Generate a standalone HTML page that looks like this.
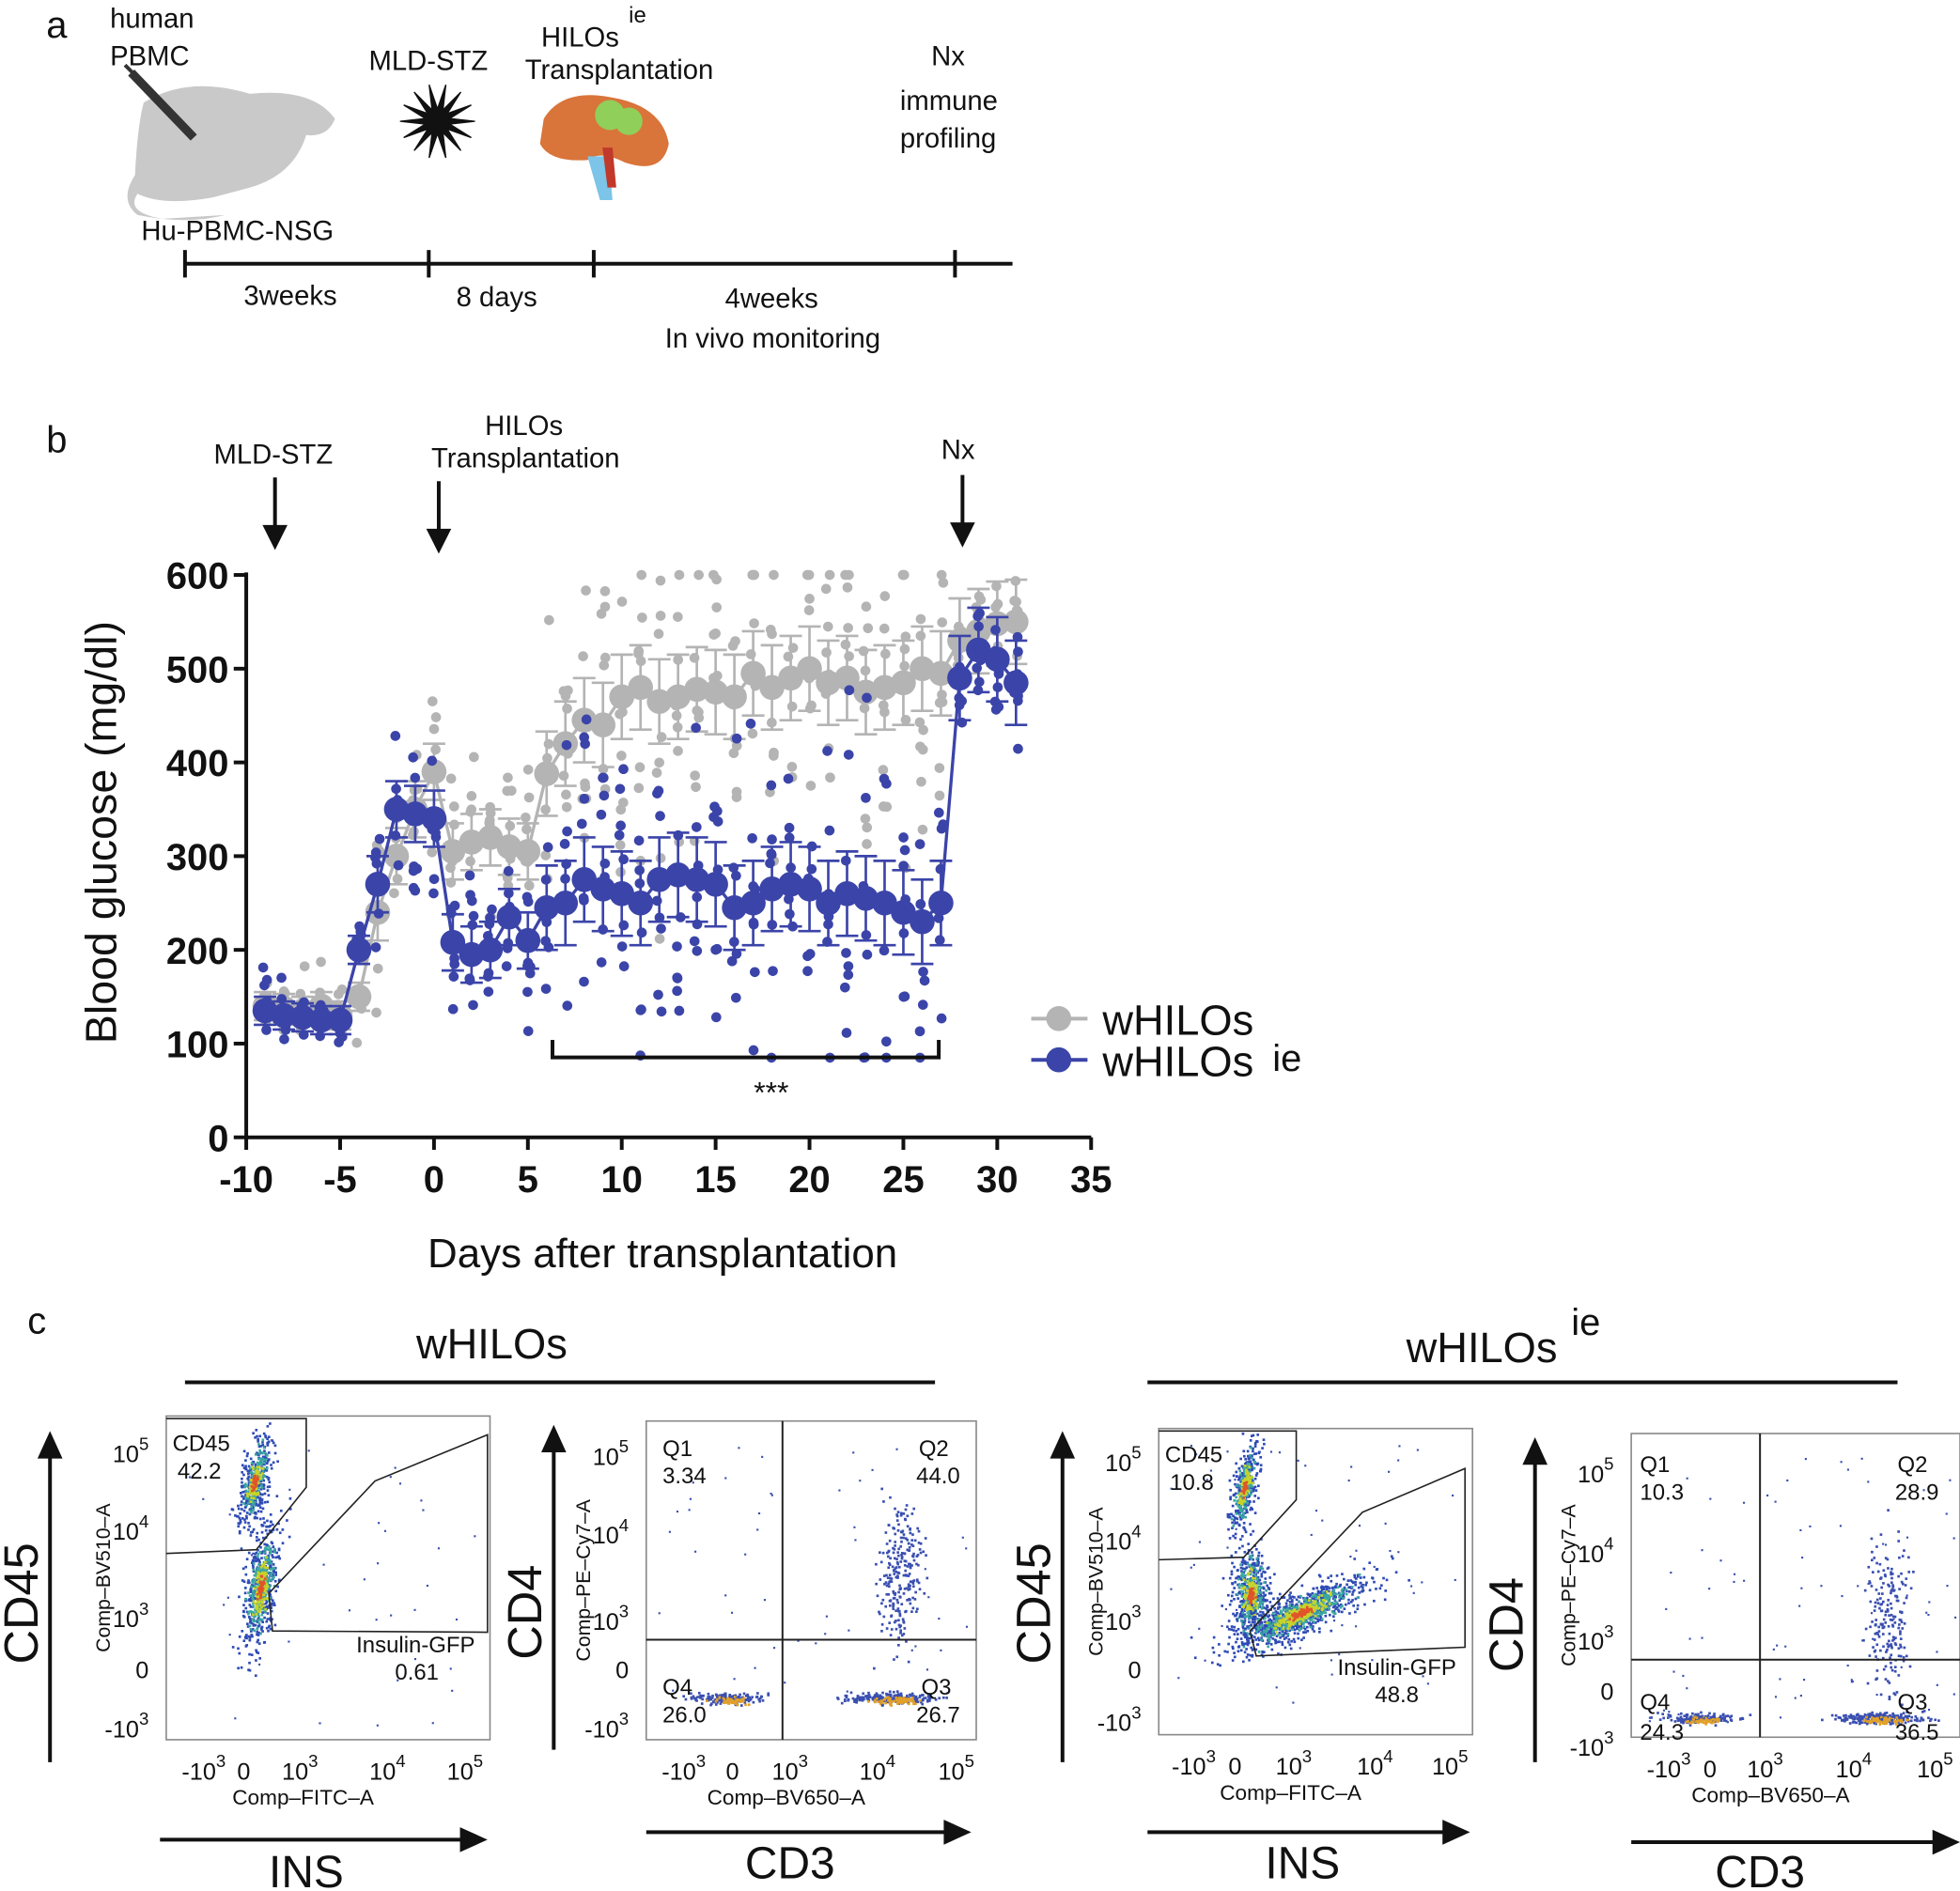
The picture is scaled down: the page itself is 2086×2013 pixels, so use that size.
<!DOCTYPE html>
<html><head><meta charset="utf-8"><style>
html,body{margin:0;padding:0;background:#fff}
svg{display:block}
text{font-family:"Liberation Sans",Arial,sans-serif;fill:#111}
</style></head><body>
<svg id="s" width="2086" height="2013" viewBox="0 0 1568 1513" xmlns="http://www.w3.org/2000/svg">
<!-- panel a -->
<text x="37" y="30" font-size="30">a</text>
<text x="88" y="22" font-size="22">human</text>
<text x="88" y="52" font-size="22">PBMC</text>
<path d="M115 82 Q150 60 200 75 Q250 70 268 95 Q262 110 245 108 Q235 140 200 150 L170 158 Q130 165 110 155 Q100 170 130 175 L180 172 Q150 180 110 172 Q95 160 108 140 Q110 100 115 82Z" fill="#c9c9c9"/>
<line x1="105" y1="58" x2="155" y2="110" stroke="#333" stroke-width="7"/>
<line x1="100" y1="52" x2="112" y2="64" stroke="#333" stroke-width="3"/>
<text x="113" y="192" font-size="22">Hu-PBMC-NSG</text>
<text x="295" y="56" font-size="22">MLD-STZ</text>
<polygon id="star" fill="#111" stroke="#111" points=""/>
<text x="433" y="37" font-size="22">HILOs</text><text x="503" y="18" font-size="18">ie</text>
<text x="420" y="63" font-size="22">Transplantation</text>
<path d="M435 95 Q450 70 490 78 Q530 85 535 115 Q530 140 500 130 Q480 120 470 128 Q440 130 432 115Z" fill="#d9743a"/>
<path d="M470 125 L480 160 L490 160 L487 125Z" fill="#7cc4e8"/>
<path d="M482 118 L486 150 L493 150 L490 118Z" fill="#c0392b"/>
<circle cx="488" cy="92" r="12" fill="#8fcf5a"/><circle cx="503" cy="97" r="11" fill="#8fcf5a"/>
<text x="745" y="52" font-size="22">Nx</text>
<text x="720" y="88" font-size="22">immune</text>
<text x="720" y="118" font-size="22">profiling</text>
<g stroke="#111" stroke-width="3"><line x1="148" y1="211" x2="810" y2="211"/>
<line x1="148" y1="200" x2="148" y2="222"/><line x1="343" y1="200" x2="343" y2="222"/><line x1="475" y1="200" x2="475" y2="222"/><line x1="764" y1="200" x2="764" y2="222"/></g>
<text x="195" y="244" font-size="22">3weeks</text>
<text x="365" y="245" font-size="22">8 days</text>
<text x="580" y="246" font-size="22">4weeks</text>
<text x="532" y="278" font-size="22">In vivo monitoring</text>

<!-- panel b -->
<text x="37" y="362" font-size="30">b</text>
<text x="171" y="371" font-size="22">MLD-STZ</text>
<text x="388" y="348" font-size="22">HILOs</text>
<text x="345" y="374" font-size="22">Transplantation</text>
<text x="753" y="367" font-size="22">Nx</text>
<g stroke="#111" stroke-width="3"><line x1="220" y1="382" x2="220" y2="432"/><line x1="351" y1="385" x2="351" y2="435"/><line x1="770" y1="380" x2="770" y2="430"/></g>
<g fill="#111"><polygon points="210,420 230,420 220,440"/><polygon points="341,423 361,423 351,443"/><polygon points="760,418 780,418 770,438"/></g>
<g stroke="#111" stroke-width="3"><line x1="197" y1="458" x2="197" y2="911"/><line x1="196" y1="910" x2="873" y2="910"/></g>
<g id="ticks" stroke="#111" stroke-width="3"></g>
<g id="tl" font-size="30" font-weight="bold"></g>
<text transform="translate(93,666) rotate(-90)" font-size="35" text-anchor="middle">Blood glucose (mg/dl)</text>
<text x="530" y="1014" font-size="33" text-anchor="middle">Days after transplantation</text>
<g id="data"></g>
<path d="M442 832 L442 846 L751 846 L751 832" fill="none" stroke="#111" stroke-width="3"/>
<text x="603" y="882" font-size="24">***</text>
<line x1="825" y1="815" x2="870" y2="815" stroke="#b4b4b4" stroke-width="3"/><circle cx="847" cy="815" r="10" fill="#b4b4b4"/>
<text x="882" y="828" font-size="34">wHILOs</text>
<line x1="825" y1="848" x2="870" y2="848" stroke="#3b44a8" stroke-width="3"/><circle cx="847" cy="848" r="10" fill="#3b44a8"/>
<text x="882" y="861" font-size="34">wHILOs</text><text x="1018" y="857" font-size="30">ie</text>

<!-- panel c -->
<text x="22" y="1067" font-size="30">c</text>
<text x="333" y="1087" font-size="34">wHILOs</text>
<line x1="148" y1="1106" x2="748" y2="1106" stroke="#111" stroke-width="3"/>
<text x="1125" y="1090" font-size="34">wHILOs</text><text x="1257" y="1068" font-size="30">ie</text>
<line x1="918" y1="1106" x2="1518" y2="1106" stroke="#111" stroke-width="3"/>
<g id="flow"></g>
</svg>
<script>
var NS="http://www.w3.org/2000/svg";
function el(p,t,a,txt){var e=document.createElementNS(NS,t);for(var k in a)e.setAttribute(k,a[k]);if(txt!=null)e.textContent=txt;p.appendChild(e);return e;}
var seed=7;function r(){seed=(seed*16807)%2147483647;return seed/2147483647;}
function gn(){return (r()+r()+r()+r()-2)*1.2;}
var pts=[];for(var i=0;i<28;i++){var a=i*Math.PI/14,rr=i%2?10:30;pts.push((350+rr*Math.cos(a))+","+(97+rr*Math.sin(a)));}
document.getElementById('star').setAttribute('points',pts.join(' '));
var tk=document.getElementById('ticks'),tl=document.getElementById('tl');
function X(d){return 197+(d+10)*15.02;}function Y(v){return 910-v*0.75;}
for(var v=0;v<=600;v+=100){el(tk,'line',{x1:187,y1:Y(v),x2:197,y2:Y(v)});el(tl,'text',{x:183,y:Y(v)+11,'text-anchor':'end'},v);}
for(var d=-10;d<=35;d+=5){el(tk,'line',{x1:X(d),y1:910,x2:X(d),y2:920});el(tl,'text',{x:X(d),y:954,'text-anchor':'middle'},d);}
var days=[-9,-8,-7,-6,-5,-4,-3,-2,-1,0,1,2,3,4,5,6,7,8,9,10,11,12,13,14,15,16,17,18,19,20,21,22,23,24,25,26,27,28,29,30,31];
var gm=[140,138,135,140,130,150,240,300,350,390,305,315,320,310,305,388,420,445,440,470,480,465,470,478,475,470,495,480,490,500,485,490,475,480,485,500,495,530,540,548,550];
var bm=[135,130,128,125,125,200,270,350,345,340,208,195,200,235,210,245,250,275,265,260,250,275,280,275,270,245,250,265,270,265,250,260,255,250,240,230,250,490,520,510,485];
var D=document.getElementById('data');
function series(m,col,sd){
 var g=el(D,'g',{});
 for(var i=0;i<days.length;i++){var sp=days[i]<-3?25:(days[i]<6?60:(days[i]<28?120:40))*sd;
  for(var j=0;j<8;j++){var v=m[i]+gn()*sp;v=Math.max(85,Math.min(600,v));el(g,'circle',{cx:X(days[i])+ (r()-0.5)*4,cy:Y(v),r:4,fill:col});}}
 var p='';for(var i=0;i<days.length;i++)p+=(i?'L':'M')+X(days[i])+' '+Y(m[i]);
 el(g,'path',{d:p,fill:'none',stroke:col,'stroke-width':2.5});
 for(var i=0;i<days.length;i++){var e=(days[i]<-3?15:(days[i]<6?30:45))*sd;var x=X(days[i]);
  el(g,'path',{d:'M'+x+' '+Y(m[i]-e)+'V'+Y(m[i]+e)+'M'+(x-9)+' '+Y(m[i]-e)+'h18M'+(x-9)+' '+Y(m[i]+e)+'h18',stroke:col,'stroke-width':2,fill:'none'});
  el(g,'circle',{cx:x,cy:Y(m[i]),r:10,fill:col});}
}
series(gm,'#b4b4b4',1);series(bm,'#3b44a8',1);
var F=document.getElementById('flow');
function arrows(x0,ytop,ybot,xl,xr,yb,ylab,xlab,lx,ly,lyb){
 el(F,'line',{x1:x0,y1:ybot,x2:x0,y2:ytop+18,stroke:'#111','stroke-width':3});
 el(F,'polygon',{points:(x0-10)+','+(ytop+22)+' '+(x0+10)+','+(ytop+22)+' '+x0+','+ytop,fill:'#111'});
 el(F,'line',{x1:xl,y1:yb,x2:xr-18,y2:yb,stroke:'#111','stroke-width':3});
 el(F,'polygon',{points:(xr-22)+','+(yb-10)+' '+(xr-22)+','+(yb+10)+' '+xr+','+yb,fill:'#111'});
 el(F,'text',{transform:'translate('+(x0-10)+','+ly+') rotate(-90)','font-size':38,'text-anchor':'middle'},ylab);
 el(F,'text',{x:lx,y:lyb,'font-size':36,'text-anchor':'middle'},xlab);
}
function box(x,y,w,h,ya,xa,yt,xt){
 el(F,'rect',{x:x,y:y,width:w,height:h,fill:'none',stroke:'#888','stroke-width':1.2});
 el(F,'text',{transform:'translate('+(x-45)+','+(y+h/2)+') rotate(-90)','font-size':16,'text-anchor':'middle'},ya);
 el(F,'text',{x:x+w/2-20,y:y+h+52,'font-size':17,'text-anchor':'middle'},xa);
 yt.forEach(function(t){var g=el(F,'text',{x:x-14,y:t[1],'font-size':19,'text-anchor':'end'},t[0]);if(t[2])el(g,'tspan',{dy:-10,'font-size':14},t[2]);});
 xt.forEach(function(t){var g=el(F,'text',{x:t[1],y:y+h+32,'font-size':19,'text-anchor':'middle'},t[0]);if(t[2])el(g,'tspan',{dy:-10,'font-size':14},t[2]);});
}
function dots(n,cx,cy,sx,sy,col,rot){for(var i=0;i<n;i++){var a=gn()*sx,b=gn()*sy;var c=Math.cos(rot||0),s=Math.sin(rot||0);el(F,'rect',{x:cx+a*c-b*s,y:cy+a*s+b*c,width:2,height:2,fill:col});}}
function cl(cx,cy,sx,sy,rot,n){dots(n,cx,cy,sx,sy,'#2f4bb5',rot);dots(n*0.5,cx,cy,sx*0.6,sy*0.6,'#3aa8a0',rot);dots(n*0.3,cx,cy,sx*0.35,sy*0.35,'#c9d32a',rot);dots(n*0.12,cx,cy,sx*0.15,sy*0.15,'#e0552a',rot);}
function scat(n,x,y,w,h){for(var i=0;i<n;i++)el(F,'rect',{x:x+r()*w,y:y+r()*h,width:1.6,height:1.6,fill:'#3a4fb0'});}
// plot1
arrows(40,1145,1410,128,390,1472,'CD45','INS',245,1283,1510);
box(133,1133,259,259,'Comp–BV510–A','Comp–FITC–A',[['10',1170,'5'],['10',1232,'4'],['10',1302,'3'],['0',1343],['-10',1390,'3']],[['-10',163,'3'],['0',195],['10',240,'3'],['10',310,'4'],['10',372,'5']]);
cl(203,1185,8,30,0.2,300);cl(208,1270,10,40,0.15,400);scat(40,150,1150,230,230);
el(F,'path',{d:'M133 1243 L205 1240 L245 1190 L245 1135 L133 1135',fill:'none',stroke:'#222','stroke-width':1.2});
el(F,'path',{d:'M215 1275 L300 1185 L390 1148 L390 1306 L218 1305Z',fill:'none',stroke:'#222','stroke-width':1.2});
el(F,'text',{x:138,y:1161,'font-size':18},'CD45');el(F,'text',{x:142,y:1183,'font-size':18},'42.2');
el(F,'text',{x:285,y:1322,'font-size':18},'Insulin-GFP');el(F,'text',{x:316,y:1344,'font-size':18},'0.61');
// plot2
arrows(443,1140,1400,517,777,1466,'CD4','CD3',632,1290,1503);
box(517,1137,264,255,'Comp–PE–Cy7–A','Comp–BV650–A',[['10',1172,'5'],['10',1235,'4'],['10',1304,'3'],['0',1343],['-10',1390,'3']],[['-10',547,'3'],['0',586],['10',632,'3'],['10',702,'4'],['10',765,'5']]);
dots(150,580,1358,20,3,'#3a4fb0');dots(60,585,1360,10,2,'#e0a02a');dots(250,713,1358,25,3,'#3a4fb0');dots(80,715,1360,12,2,'#e0a02a');
dots(250,720,1260,12,40,'#3a4fb0');scat(50,525,1150,250,220);
el(F,'line',{x1:626,y1:1137,x2:626,y2:1392,stroke:'#222','stroke-width':1.5});el(F,'line',{x1:517,y1:1312,x2:781,y2:1312,stroke:'#222','stroke-width':1.5});
[['Q1',530,1165],['3.34',530,1187],['Q2',735,1165],['44.0',733,1187],['Q4',530,1356],['26.0',530,1378],['Q3',737,1356],['26.7',733,1378]].forEach(function(t){el(F,'text',{x:t[1],y:t[2],'font-size':18},t[0]);});
// plot3
arrows(850,1145,1410,918,1176,1466,'CD45','INS',1042,1283,1503);
box(927,1143,251,245,'Comp–BV510–A','Comp–FITC–A',[['10',1177,'5'],['10',1240,'4'],['10',1304,'3'],['0',1343],['-10',1385,'3']],[['-10',955,'3'],['0',988],['10',1035,'3'],['10',1100,'4'],['10',1160,'5']]);
cl(995,1190,7,30,0.2,250);cl(1000,1275,12,30,0,350);cl(1040,1290,45,12,-0.45,700);scat(60,935,1155,230,220);
el(F,'path',{d:'M927 1248 L995 1246 L1037 1200 L1037 1145 L927 1145',fill:'none',stroke:'#222','stroke-width':1.2});
el(F,'path',{d:'M1000 1305 L1090 1210 L1172 1175 L1172 1318 L1005 1325Z',fill:'none',stroke:'#222','stroke-width':1.2});
el(F,'text',{x:932,y:1170,'font-size':18},'CD45');el(F,'text',{x:936,y:1192,'font-size':18},'10.8');
el(F,'text',{x:1070,y:1340,'font-size':18},'Insulin-GFP');el(F,'text',{x:1100,y:1362,'font-size':18},'48.8');
// plot4
arrows(1228,1150,1410,1305,1568,1474,'CD4','CD3',1408,1300,1510);
box(1305,1147,263,243,'Comp–PE–Cy7–A','Comp–BV650–A',[['10',1186,'5'],['10',1250,'4'],['10',1320,'3'],['0',1360],['-10',1405,'3']],[['-10',1335,'3'],['0',1368],['10',1412,'3'],['10',1483,'4'],['10',1548,'5']]);
dots(150,1360,1374,22,3,'#3a4fb0');dots(50,1362,1376,10,2,'#e0a02a');dots(250,1505,1374,25,3,'#3a4fb0');dots(80,1505,1376,12,2,'#e0a02a');
dots(200,1510,1290,12,45,'#3a4fb0');scat(80,1315,1160,250,220);
el(F,'line',{x1:1408,y1:1147,x2:1408,y2:1390,stroke:'#222','stroke-width':1.5});el(F,'line',{x1:1305,y1:1328,x2:1568,y2:1328,stroke:'#222','stroke-width':1.5});
[['Q1',1312,1178],['10.3',1312,1200],['Q2',1518,1178],['28.9',1516,1200],['Q4',1312,1368],['24.3',1312,1392],['Q3',1518,1368],['36.5',1516,1392]].forEach(function(t){el(F,'text',{x:t[1],y:t[2],'font-size':18},t[0]);});
</script>
</body></html>
